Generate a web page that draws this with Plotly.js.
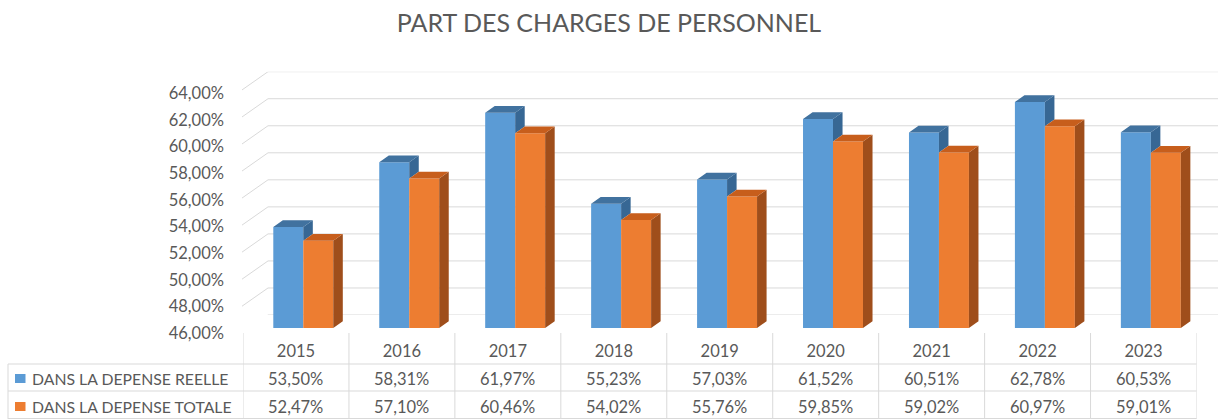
<!DOCTYPE html>
<html><head><meta charset="utf-8">
<script src="https://cdn.plot.ly/plotly-3.0.1.min.js"></script>
<style>html,body{margin:0;padding:0;background:#fff}#chart{width:1218px;height:419px}</style>
</head><body><div id="chart"></div>
<script>
// ---- data ----
const title = 'PART DES CHARGES DE PERSONNEL';
const years = ['2015','2016','2017','2018','2019','2020','2021','2022','2023'];
const seriesNames = ['DANS LA DEPENSE REELLE','DANS LA DEPENSE TOTALE'];
const reelle = [0.5350,0.5831,0.6197,0.5523,0.5703,0.6152,0.6051,0.6278,0.6053];
const totale = [0.5247,0.5710,0.6046,0.5402,0.5576,0.5985,0.5902,0.6097,0.5901];
const yTicks = [0.46,0.48,0.50,0.52,0.54,0.56,0.58,0.60,0.62,0.64];

// ---- style / geometry ----
const W = 1218, H = 419;
const fx = p => p / W, fy = p => 1 - p / H;
const FONT = 'Lato, "Open Sans", sans-serif';
const TXT = '#595959', GRID = '#d9d9d9';
const FS = 16.5;
const BLUE = '#5B9BD5', BLUE_TOP = '#41729f', BLUE_SIDE = '#376794';
const ORANGE = '#ED7D31', ORANGE_TOP = '#c75e1c', ORANGE_SIDE = '#9f4e1b';
const yMin = yTicks[0], yMax = yTicks[yTicks.length - 1];
const BW = 0.283, OFF_B = -0.214, OFF_O = 0.069;   // bar width / offsets (category units)
const DX = 0.09, DY = 0.005;                       // 3D depth of bars
const WALL = 0.0135;                               // depth of side wall (value units)

const idx = years.map((_, i) => i);
const fmt = v => (v * 100).toFixed(2).replace('.', ',') + '%';

function polys(fn) {
  const xs = [], ys = [];
  idx.forEach(i => { fn(i).forEach(p => { xs.push(p[0]); ys.push(p[1]); }); xs.push(null); ys.push(null); });
  return {xs, ys};
}
function faceTrace(pp, color) {
  return {type:'scatter', mode:'lines', x: pp.xs, y: pp.ys, fill:'toself', fillcolor: color,
          line:{width:0, color: color}, hoverinfo:'skip', showlegend:false, xaxis:'x', yaxis:'y'};
}

const blueSide = polys(i => { const x1 = i + OFF_B + BW, vb = reelle[i], vo = totale[i];
  return [[x1, vb],[x1 + DX, vb + DY],[x1 + DX, vo + DY],[x1, vo]]; });
const blueTop = polys(i => { const x0 = i + OFF_B, x1 = x0 + BW, v = reelle[i];
  return [[x0, v],[x1, v],[x1 + DX, v + DY],[x0 + DX, v + DY]]; });
const orSide = polys(i => { const x1 = i + OFF_O + BW, v = totale[i];
  return [[x1, yMin],[x1, v],[x1 + DX, v + DY],[x1 + DX, yMin + DY]]; });
const orTop = polys(i => { const x0 = i + OFF_O, x1 = x0 + BW, v = totale[i];
  return [[x0, v],[x1, v],[x1 + DX, v + DY],[x0 + DX, v + DY]]; });

const data = [
  {type:'scatter', x:[], y:[], xaxis:'x', yaxis:'y2', showlegend:false, hoverinfo:'skip'},
  {type:'scatter', x:[], y:[], xaxis:'x', yaxis:'y3', showlegend:false, hoverinfo:'skip'},
  {type:'bar', name: seriesNames[0], x: idx, y: reelle, offset: OFF_B, width: BW,
   marker:{color: BLUE, line:{width:0}}, showlegend:false, xaxis:'x', yaxis:'y'},
  {type:'bar', name: seriesNames[1], x: idx, y: totale, offset: OFF_O, width: BW,
   marker:{color: ORANGE, line:{width:0}}, showlegend:false, xaxis:'x', yaxis:'y'},
  faceTrace(blueSide, BLUE_SIDE),
  faceTrace(blueTop, BLUE_TOP),
  faceTrace(orSide, ORANGE_SIDE),
  faceTrace(orTop, ORANGE_TOP)
];

const shapes = [];
const line = c => ({color: c, width: 1});
// back wall gridlines + side wall diagonals
yTicks.forEach(v => {
  shapes.push({type:'line', xref:'paper', yref:'y2', x0: fx(268), x1: 1, y0: v, y1: v, line: line(GRID), layer:'below'});
  shapes.push({type:'line', xref:'paper', yref:'y2', x0: fx(242), x1: fx(268), y0: v - WALL, y1: v, line: line(GRID), layer:'below'});
});
// data table grid
for (let k = 0; k <= years.length; k++) {
  shapes.push({type:'line', xref:'x', yref:'paper', x0: k - 0.5, x1: k - 0.5, y0: 0, y1: fy(333), line: line(GRID), layer:'below'});
}
[364, 391, 418.5].forEach(p => shapes.push({type:'line', xref:'paper', yref:'paper', x0: fx(8), x1: fx(1196.5), y0: fy(p), y1: fy(p), line: line(GRID), layer:'below'}));
shapes.push({type:'line', xref:'paper', yref:'paper', x0: fx(8), x1: fx(8), y0: 0, y1: fy(364), line: line(GRID), layer:'below'});
// legend keys
const rowY = [378.5, 406.5];
[BLUE, ORANGE].forEach((c, r) => shapes.push({type:'rect', xref:'paper', yref:'paper',
  x0: fx(15), x1: fx(25.5), y0: fy(rowY[r] + 4.5), y1: fy(rowY[r] - 4.5), fillcolor: c, line:{width:0}}));

const annotations = [];
seriesNames.forEach((s, r) => annotations.push({xref:'paper', yref:'paper', x: fx(30), y: fy(rowY[r]),
  xanchor:'left', yanchor:'middle', text: s, showarrow:false, font:{family: FONT, size: 15.8, color: TXT}}));
[reelle, totale].forEach((arr, r) => arr.forEach((v, i) => annotations.push({xref:'x', yref:'paper', x: i, y: fy(rowY[r]),
  xanchor:'center', yanchor:'middle', text: fmt(v), showarrow:false, font:{family: FONT, size: FS, color: TXT}})));

const layout = {
  width: W, height: H, margin:{l:0, r:0, t:0, b:0}, paper_bgcolor:'#fff', plot_bgcolor:'rgba(0,0,0,0)',
  separators: ', ', showlegend:false, barmode:'overlay', hovermode:false, dragmode:false,
  font:{family: FONT, color: TXT},
  title:{text: title, x: 0.5, xanchor:'center', y: fy(23.5), yanchor:'middle', font:{family: FONT, size: 25, color: TXT}},
  xaxis:{domain:[fx(243), fx(1196.5)], range:[-0.5, years.length - 0.5], tickvals: idx, ticktext: years,
         ticks:'', showgrid:false, zeroline:false, showline:false, ticklabelstandoff: 11,
         tickfont:{family: FONT, size: FS, color: TXT}, anchor:'y'},
  yaxis:{domain:[fy(328), fy(85.5)], range:[yMin, yMax], visible:false, anchor:'x'},
  yaxis2:{domain:[fy(315), fy(71.7)], range:[yMin, yMax], visible:false, anchor:'x'},
  yaxis3:{domain:[fy(333.3), fy(93.3)], range:[yMin, yMax], anchor:'free', position: fx(224), side:'left',
          tickvals: yTicks, tickformat:'.2%', ticks:'', showgrid:false, zeroline:false, showline:false,
          tickfont:{family: FONT, size: FS, color: TXT}},
  shapes, annotations
};
Plotly.newPlot('chart', data, layout, {staticPlot:true, displayModeBar:false});
</script></body></html>
